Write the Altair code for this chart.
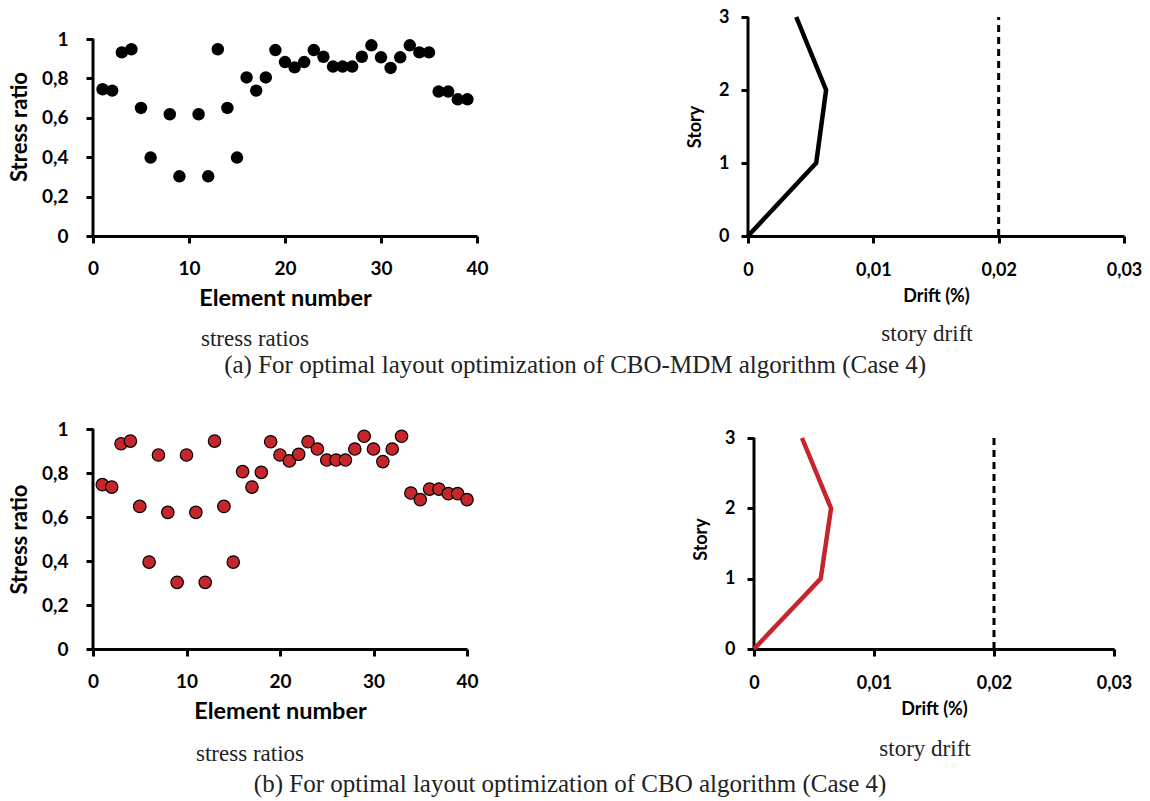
import altair as alt
import pandas as pd

# ---------------- data ----------------
elem_a = [1, 2, 3, 4, 5, 6, 8, 9, 11, 12, 13, 14, 15, 16, 17, 18, 19, 20, 21, 22,
          23, 24, 25, 26, 27, 28, 29, 30, 31, 32, 33, 34, 35, 36, 37, 38, 39]
ratio_a = [0.745, 0.738, 0.932, 0.948, 0.650, 0.398, 0.618, 0.303, 0.618, 0.303,
           0.948, 0.650, 0.398, 0.805, 0.738, 0.805, 0.944, 0.883, 0.856, 0.883,
           0.944, 0.910, 0.860, 0.860, 0.860, 0.910, 0.968, 0.907, 0.853, 0.907,
           0.968, 0.932, 0.932, 0.733, 0.733, 0.694, 0.694]

elem_b = list(range(1, 41))
ratio_b = [0.747, 0.736, 0.933, 0.945, 0.648, 0.395, 0.882, 0.621, 0.303, 0.882,
           0.621, 0.303, 0.945, 0.648, 0.395, 0.806, 0.736, 0.803, 0.942, 0.882,
           0.855, 0.885, 0.942, 0.909, 0.859, 0.859, 0.859, 0.909, 0.967, 0.909,
           0.852, 0.909, 0.967, 0.709, 0.679, 0.727, 0.727, 0.706, 0.706, 0.679]

story = [0, 1, 2, 3]
drift_a = [0.0, 0.00544, 0.00623, 0.00385]
drift_b = [0.0, 0.00556, 0.00642, 0.00400]

drift_limit = [0.02, 0.02]
limit_story = [0, 3]

ratio_ticks = [0, 0.2, 0.4, 0.6, 0.8, 1]
elem_ticks = [0, 10, 20, 30, 40]
drift_ticks = [0, 0.01, 0.02, 0.03]
story_ticks = [0, 1, 2, 3]

caption_a = "(a) For optimal layout optimization of CBO-MDM algorithm (Case 4)"
caption_b = "(b) For optimal layout optimization of CBO algorithm (Case 4)"

SANS = "Lato"
SERIF = "Liberation Serif"
RED = "#C4262B"
COMMA = "replace(toString(datum.value), '.', ',')"


def sub_caption(text, dx, offset):
    return alt.TitleParams(text, orient="bottom", font=SERIF, fontSize=23,
                           fontWeight="normal", color="#222222", offset=offset,
                           anchor="middle", dx=dx)


def scatter(elems, ratios, w, h, ytop, fill, stroke, sw, cap_off):
    df = pd.DataFrame({"elem": elems, "ratio": ratios})
    xs = alt.Scale(domain=[0, 40], nice=False, zero=False)
    ys = alt.Scale(domain=[0, ytop], nice=False)
    xaxis = alt.Axis(values=elem_ticks, title="Element number", labelFlush=False,
                     titleFontSize=23.5, labelFontSize=19, labelPadding=16,
                     titlePadding=8)
    yaxis = alt.Axis(values=ratio_ticks, title="Stress ratio", domain=False,
                     labelExpr=COMMA, titleFontSize=22, labelFontSize=19,
                     labelPadding=18, titlePadding=10)
    axis_df = pd.DataFrame({"x": [0], "y0": [0], "y1": [ratio_ticks[-1]]})
    rule = alt.Chart(axis_df).mark_rule(color="black", strokeWidth=3).encode(
        x=alt.X("x:Q", scale=xs, axis=xaxis),
        y=alt.Y("y0:Q", scale=ys, axis=yaxis),
        y2="y1:Q",
    )
    pts = alt.Chart(df).mark_circle(size=155, color=fill, stroke=stroke,
                                    strokeWidth=sw, opacity=1).encode(
        x=alt.X("elem:Q", scale=xs, axis=xaxis),
        y=alt.Y("ratio:Q", scale=ys, axis=yaxis),
    )
    return alt.layer(rule, pts).properties(
        width=w, height=h, title=sub_caption("stress ratios", -30, cap_off))


def drift_panel(drifts, w, h, ytop, color, cap_off):
    df = pd.DataFrame({"story": story, "drift": drifts})
    lim = pd.DataFrame({"x": drift_limit, "y": limit_story})
    xs = alt.Scale(domain=[0, 0.03], nice=False, zero=False)
    ys = alt.Scale(domain=[0, ytop], nice=False)
    xaxis = alt.Axis(values=drift_ticks, title="Drift (%)", labelFlush=False,
                     labelExpr=COMMA, titleFontSize=18, labelFontSize=18,
                     labelPadding=18, titlePadding=8)
    yaxis = alt.Axis(values=story_ticks, title="Story", domain=False,
                     titleFontSize=18, labelFontSize=18, labelPadding=12,
                     titlePadding=14)
    axis_df = pd.DataFrame({"x": [0], "y0": [0], "y1": [story_ticks[-1]]})
    rule = alt.Chart(axis_df).mark_rule(color="black", strokeWidth=3).encode(
        x=alt.X("x:Q", scale=xs, axis=xaxis),
        y=alt.Y("y0:Q", scale=ys, axis=yaxis),
        y2="y1:Q",
    )
    limit = alt.Chart(lim).mark_line(color="black", strokeWidth=3,
                                     strokeDash=[7, 5]).encode(
        x=alt.X("x:Q", scale=xs, axis=xaxis),
        y=alt.Y("y:Q", scale=ys, axis=yaxis),
    )
    line = alt.Chart(df).mark_line(color=color, strokeWidth=4.5).encode(
        x=alt.X("drift:Q", scale=xs, axis=xaxis),
        y=alt.Y("story:Q", scale=ys, axis=yaxis),
        order="story:Q",
    )
    return alt.layer(rule, limit, line).properties(
        width=w, height=h, title=sub_caption("story drift", -9, cap_off))


# row a: both panels 219 px high, bottoms aligned
sc_a = scatter(elem_a, ratio_a, 384, 219, 219 / 197, "black", "black", 0, 18)
dr_a = drift_panel(drift_a, 376, 219, 3, "black", 18)
# row b: both panels 220 px high
sc_b = scatter(elem_b, ratio_b, 374, 220, 1.0, RED, "black", 1.2, 20)
dr_b = drift_panel(drift_b, 360, 220, 3 * 220 / 211, RED, 20)


def row_caption(text, offset):
    return alt.TitleParams(text, orient="bottom", font=SERIF, fontSize=25,
                           fontWeight="normal", color="#222222", offset=offset,
                           anchor="middle")


row_a = alt.hconcat(sc_a, dr_a, spacing=197, title=row_caption(caption_a, 2))
row_b = alt.hconcat(sc_b, dr_b, spacing=213, title=row_caption(caption_b, 6))

chart = alt.vconcat(row_a, row_b, spacing=42).properties(
    padding={"left": 8, "top": 8, "right": 0, "bottom": 0},
    background="white",
).configure_view(stroke=None).configure_axis(
    labelFont=SANS, titleFont=SANS, labelFontWeight="bold", titleFontWeight="bold",
    labelColor="black", titleColor="black", domainColor="black", domainWidth=3,
    tickColor="black", tickWidth=3, tickSize=7, grid=False,
)

chart.save("out.html", embed_options={"renderer": "svg", "actions": False})
